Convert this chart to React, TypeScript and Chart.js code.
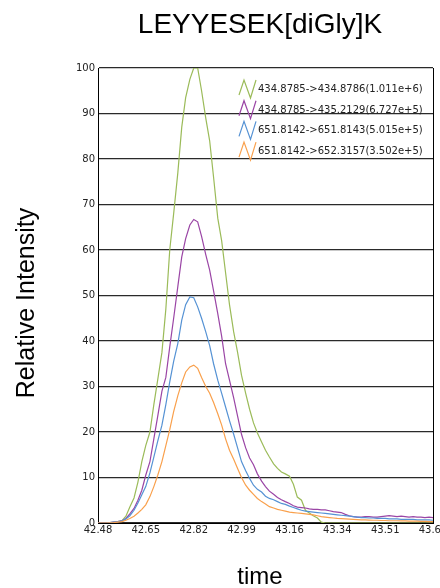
import React, { useEffect, useRef } from "react";
import { Chart, registerables } from "chart.js";

Chart.register(...registerables);

const chartTitle = "LEYYESEK[diGly]K";
const xAxisTitle = "time";
const yAxisTitle = "Relative Intensity";

const xTickLabels = ["42.48", "42.65", "42.82", "42.99", "43.16", "43.34", "43.51", "43.68"];
const xTickValues = [42.48, 42.651, 42.823, 42.994, 43.166, 43.337, 43.509, 43.68];
const xMin = 42.48;
const xMax = 43.68;
const yMin = 0;
const yMax = 100;
const yStep = 10;

const times = [
  42.480, 42.494, 42.509, 42.523, 42.537, 42.551, 42.566, 42.580, 42.594, 42.609,
  42.623, 42.637, 42.651, 42.666, 42.680, 42.694, 42.709, 42.723, 42.737, 42.751,
  42.766, 42.780, 42.794, 42.809, 42.823, 42.837, 42.851, 42.866, 42.880, 42.894,
  42.909, 42.923, 42.937, 42.951, 42.966, 42.980, 42.994, 43.009, 43.023, 43.037,
  43.051, 43.066, 43.080, 43.094, 43.109, 43.123, 43.137, 43.151, 43.166, 43.180,
  43.194, 43.209, 43.223, 43.237, 43.251, 43.266, 43.280, 43.294, 43.309, 43.323,
  43.337, 43.351, 43.366, 43.380, 43.394, 43.409, 43.423, 43.437, 43.451, 43.466,
  43.480, 43.494, 43.509, 43.523, 43.537, 43.551, 43.566, 43.580, 43.594, 43.609,
  43.623, 43.637, 43.651, 43.666, 43.680,
];

const green = [
  0, 0, 0, 0.1, 0.2, 0.3, 0.5, 1.5, 3.5, 5.5,
  9, 13.5, 17, 20, 26, 31.5, 37.5, 47, 60, 68,
  77, 87, 93.5, 97.5, 100, 100, 95, 89, 84, 76,
  67, 62, 55, 48, 42, 37.5, 32.5, 28.5, 25, 22,
  19.8, 17.8, 16, 14.5, 13, 12, 11.2, 10.8, 10.3, 8.5,
  5.7, 5, 2.8, 2.2, 1.6, 1.1, 0.2, 0, 0, 0,
  0, 0, 0, 0, 0, 0, 0, 0, 0, 0,
  0, 0, 0, 0, 0, 0, 0, 0, 0, 0,
  0, 0, 0, 0, 0,
];

const purple = [
  0, 0, 0, 0.1, 0.2, 0.3, 0.5, 1, 2, 3.2,
  5, 7.2, 10.5, 13.5, 18.5, 23.5, 29, 32, 38.7, 45,
  52, 58.5, 62.5, 65.5, 66.7, 66.2, 63, 59, 55.6, 51,
  46, 41, 35, 31.4, 27.5, 23.5, 19.5, 16.5, 14.3, 12.8,
  10.8, 9.2, 8, 7, 6.3, 5.6, 5.1, 4.7, 4.3, 3.8,
  3.5, 3.4, 3.3, 3.1, 3.0, 3.0, 2.9, 2.9, 2.7, 2.5,
  2.4, 2.3, 1.9, 1.6, 1.4, 1.3, 1.3, 1.4, 1.4, 1.3,
  1.3, 1.4, 1.5, 1.6, 1.5, 1.4, 1.5, 1.4, 1.3, 1.4,
  1.3, 1.3, 1.2, 1.3, 1.2,
];

const blue = [
  0, 0, 0, 0.1, 0.2, 0.3, 0.5, 0.9, 1.6, 2.8,
  4.4, 6.2, 8, 11, 14.5, 18, 21.5, 26, 31, 35.5,
  39.5, 44.6, 48, 49.7, 49.5, 47.5, 45, 42, 39, 35,
  31.4, 28.5, 25.5, 22.5, 19.5, 16.5, 13.5, 11.5, 9.8, 8.3,
  7.4, 6.8, 5.9, 5.4, 5.1, 4.7, 4.3, 4.1, 3.7, 3.4,
  3.1, 2.8, 2.6, 2.5, 2.4, 2.3, 2.2, 2.1, 2.0, 1.9,
  1.8, 1.7, 1.6, 1.5, 1.4, 1.3, 1.2, 1.2, 1.1, 1.1,
  1.0, 1.0, 1.0, 0.9, 0.9, 0.9, 0.8, 0.8, 0.8, 0.8,
  0.7, 0.7, 0.7, 0.7, 0.6,
];

const orange = [
  0, 0, 0, 0.05, 0.1, 0.2, 0.3, 0.6, 1.0, 1.5,
  2.2, 3, 4, 5.8, 8, 10.5, 13.5, 17, 20.5, 24.5,
  28, 30.8, 33.2, 34.3, 34.7, 34, 32, 30, 28.5, 26.5,
  24, 21.5, 18.5, 16, 14, 12, 10, 8.3, 7.2, 6.3,
  5.4, 4.7, 4.2, 3.6, 3.3, 3.0, 2.8, 2.6, 2.4, 2.3,
  2.2, 2.1, 2.0, 1.9, 1.8, 1.6, 1.4, 1.3, 1.2, 1.1,
  1.0, 0.95, 0.9, 0.85, 0.8, 0.75, 0.7, 0.7, 0.65, 0.6,
  0.6, 0.55, 0.55, 0.5, 0.5, 0.5, 0.45, 0.45, 0.4, 0.4,
  0.4, 0.35, 0.35, 0.3, 0.3,
];

const seriesLabels = [
  "434.8785->434.8786(1.011e+6)",
  "434.8785->435.2129(6.727e+5)",
  "651.8142->651.8143(5.015e+5)",
  "651.8142->652.3157(3.502e+5)",
];
const seriesValues = [green, purple, blue, orange];
const seriesColors = ["#9bbb59", "#9a45a5", "#5592d4", "#f9a04c"];

const TICK_FONT = { family: "'DejaVu Sans', Verdana, sans-serif", size: 10 };

const decorPlugin = {
  id: "decor",
  afterDatasetsDraw(chart: any) {
    const { ctx, chartArea: a } = chart;
    ctx.save();
    // right border
    ctx.strokeStyle = "#000";
    ctx.lineWidth = 1;
    ctx.beginPath();
    ctx.moveTo(Math.round(a.right) + 0.5, a.top);
    ctx.lineTo(Math.round(a.right) + 0.5, a.bottom);
    ctx.stroke();

    // legend
    const x0 = a.right - 194;
    const cy0 = a.top + 21;
    const rowH = 20.7;
    ctx.font = "10px 'DejaVu Sans', Verdana, sans-serif";
    ctx.textBaseline = "middle";
    ctx.textAlign = "left";
    chart.data.datasets.forEach((ds: any, i: number) => {
      const cy = cy0 + i * rowH;
      ctx.strokeStyle = ds.borderColor;
      ctx.lineWidth = 1.2;
      ctx.beginPath();
      ctx.moveTo(x0, cy + 6);
      ctx.lineTo(x0 + 5, cy - 9);
      ctx.lineTo(x0 + 11.5, cy + 9);
      ctx.lineTo(x0 + 17, cy - 9);
      ctx.stroke();
      ctx.fillStyle = "#222";
      ctx.fillText(ds.label, x0 + 19, cy + 0.5);
    });
    ctx.restore();
  },
  afterDraw(chart: any) {
    const { ctx } = chart;
    ctx.save();
    ctx.fillStyle = "#000";
    ctx.textAlign = "center";
    ctx.textBaseline = "alphabetic";
    ctx.font = "28px 'Liberation Sans', Arial, sans-serif";
    ctx.fillText(chartTitle, 260, 33);
    ctx.font = "24px 'Liberation Sans', Arial, sans-serif";
    ctx.fillText(xAxisTitle, 260, 584);
    ctx.font = "25px 'Liberation Sans', Arial, sans-serif";
    ctx.translate(34, 303);
    ctx.rotate(-Math.PI / 2);
    ctx.fillText(yAxisTitle, 0, 0);
    ctx.restore();
  },
};

export default function App() {
  const canvasRef = useRef<HTMLCanvasElement | null>(null);

  useEffect(() => {
    const canvas = canvasRef.current;
    if (!canvas) return;
    const chart = new Chart(canvas, {
      type: "line",
      data: {
        datasets: seriesValues.map((vals, i) => ({
          label: seriesLabels[i],
          data: times.map((t, j) => ({ x: t, y: vals[j] })),
          borderColor: seriesColors[i],
          backgroundColor: seriesColors[i],
          borderWidth: 1.2,
          pointRadius: 0,
          tension: 0,
          fill: false,
          order: 4 - i,
        })),
      },
      options: {
        responsive: false,
        animation: false,
        layout: { padding: { left: 0, right: 7, top: 68, bottom: 45 } },
        plugins: {
          legend: { display: false },
          title: { display: false },
          tooltip: { enabled: false },
        },
        scales: {
          x: {
            type: "linear",
            min: xMin,
            max: xMax,
            afterBuildTicks: (scale: any) => {
              scale.ticks = xTickValues.map((v) => ({ value: v }));
            },
            ticks: {
              callback: (_v: any, i: number) => xTickLabels[i],
              font: TICK_FONT,
              color: "#222",
              padding: 1,
              maxRotation: 0,
              autoSkip: false,
            },
            grid: { display: false, drawTicks: false },
            border: { color: "#000", width: 1 },
            afterFit: (scale: any) => {
              scale.height = 20;
              scale.paddingLeft = 0;
              scale.paddingRight = 0;
            },
          },
          y: {
            min: yMin,
            max: yMax,
            ticks: { stepSize: yStep, padding: 3, font: TICK_FONT, color: "#222" },
            grid: { color: "#2a2a2a", lineWidth: 1.3, drawTicks: false },
            border: { color: "#000", width: 1 },
            afterFit: (scale: any) => {
              scale.width = 98;
            },
          },
        },
      },
      plugins: [decorPlugin],
    });
    return () => chart.destroy();
  }, []);

  return (
    <div style={{ position: "absolute", left: 0, top: 0, width: 440, height: 588, background: "#fff" }}>
      <canvas ref={canvasRef} width={440} height={588} style={{ width: 440, height: 588, display: "block" }} />
    </div>
  );
}
